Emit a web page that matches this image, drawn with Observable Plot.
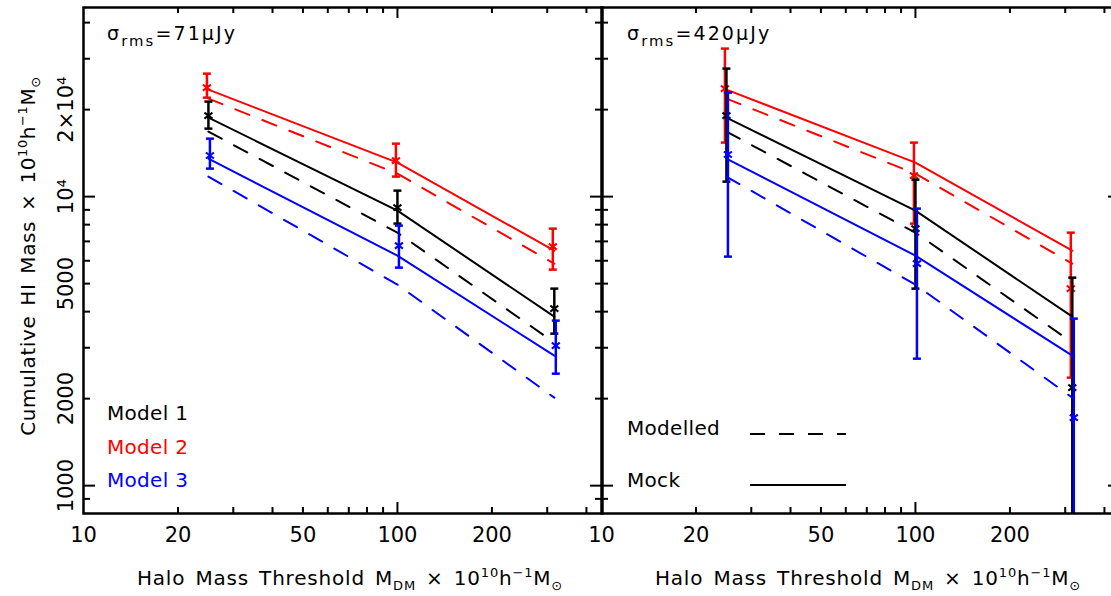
<!DOCTYPE html>
<html>
<head>
<meta charset="utf-8">
<script src="https://cdn.jsdelivr.net/npm/d3@7"></script>
<script src="https://cdn.jsdelivr.net/npm/@observablehq/plot@0.6"></script>
<style>
  html, body { margin:0; padding:0; background:#fff; }
  body { width:1111px; height:596px; overflow:hidden; position:relative; font-family:"DejaVu Sans", sans-serif; color:#000; }
  .panel { position:absolute; top:0; }
  .t { position:absolute; white-space:nowrap; line-height:1; }
  .t sup, .t sub { font-size:65%; line-height:0; position:relative; vertical-align:baseline; }
  .t sup { top:-0.6em; }
  .t sub { top:0.35em; }
</style>
</head>
<body>
<div id="left" class="panel" style="left:0"></div>
<div id="right" class="panel" style="left:599px"></div>
<script>
// ---------------- data ----------------
const haloThreshold = [25, 100, 316];                 // M_DM threshold (10^10 h^-1 Msun)
const modelNames  = ["Model 1", "Model 2", "Model 3"];
const modelColors = ["#000000", "#ff0000", "#0000ff"];
const panelSigma  = ["71", "420"];                    // σ_rms in μJy

// Modelled (dashed) cumulative HI mass
const modelledHI = [
  [16790, 7505, 3125],
  [21830, 12010, 5864],
  [11730, 4960, 2016]
];
// Mock (solid) cumulative HI mass
const mockHI = [
  [18770, 8945, 3843],
  [23460, 13110, 6500],
  [13530, 6250, 2818]
];
// σ_rms = 71 μJy : measured values and error bars
const mean71 = [[19070, 9160, 4097], [23840, 13320, 6714], [13870, 6767, 3050]];
const low71  = [[17190, 8066, 3357], [22000, 11730, 5590], [12500, 5680, 2440]];
const high71 = [[21320, 10490, 4805], [26640, 15250, 7749], [15870, 7937, 3724]];
// σ_rms = 420 μJy
const mean420 = [[19070, 7749, 2183], [23640, 11820, 4805], [13980, 5864, 1719]];
const low420  = [[11270, 4805, 500], [15380, 8066, 2364], [6200, 2750, 500]];
const high420 = [[27730, 11450, 5244], [32520, 15380, 7505], [22900, 9090, 3783]];

// ticks
const xTickLabels = [10, 20, 50, 100, 200];
const xMajorTicks = [100];
const xMinorTicks = [20, 30, 40, 50, 60, 70, 80, 90, 200, 300, 400];
const yMajorTicks = [1000, 10000];
const yMinorTicks = [900, 2000, 3000, 4000, 5000, 6000, 7000, 8000, 9000, 20000, 30000, 40000];
const yTickLabelValues = [1000, 2000, 5000, 10000, 20000];
const yTickLabelText   = ["1000", "2000", "5000", "10⁴", "2×10⁴"];

const legendStyles = ["Modelled", "Mock"];

// ---------------- drawing ----------------
const innerW = 519, innerH = 506, mTop = 7, mBottom = 83;
const drawOrder = [1, 0, 2];
const dxOffset = [0, -1.5, 1.5];

const capSymbol = {draw(ctx, size) { const r = Math.sqrt(size / Math.PI); ctx.moveTo(-r, 0); ctx.lineTo(r, 0); }};
const crossSymbol = {draw(ctx, size) { const r = Math.sqrt(size / Math.PI); const h = r * 0.75;
  ctx.moveTo(-r, -h); ctx.lineTo(r, h); ctx.moveTo(-r, h); ctx.lineTo(r, -h); }};

function panel(mean, lo, hi, withYLabels) {
  const marginLeft = withYLabels ? 83 : 2, marginRight = 2;
  const marks = [];
  for (const m of drawOrder) {
    const rows = haloThreshold.map((x, i) => ({
      x, modelled: modelledHI[m][i], mock: mockHI[m][i],
      mean: mean[m][i], lo: lo[m][i], hi: hi[m][i]
    }));
    const c = modelColors[m], dx = dxOffset[m];
    marks.push(
      Plot.line(rows, {x: "x", y: "modelled", stroke: c, strokeWidth: 2, strokeDasharray: "15,14"}),
      Plot.line(rows, {x: "x", y: "mock", stroke: c, strokeWidth: 2}),
      Plot.ruleX(rows, {x: "x", y1: "lo", y2: "hi", stroke: c, strokeWidth: 2.5, dx, clip: true}),
      Plot.dot(rows, {x: "x", y: "lo", symbol: capSymbol, r: 4, stroke: c, fill: "none", strokeWidth: 2.5, dx, clip: true}),
      Plot.dot(rows, {x: "x", y: "hi", symbol: capSymbol, r: 4, stroke: c, fill: "none", strokeWidth: 2.5, dx, clip: true}),
      Plot.dot(rows, {x: "x", y: "mean", symbol: crossSymbol, r: 4, stroke: c, fill: "none", strokeWidth: 2, dx, clip: true})
    );
  }
  const tickMarks = [
    Plot.tickY(yMajorTicks, {y: d => d, insetRight: innerW - 12, strokeWidth: 2}),
    Plot.tickY(yMajorTicks, {y: d => d, insetLeft: innerW - 12, strokeWidth: 2}),
    Plot.tickY(yMinorTicks, {y: d => d, insetRight: innerW - 7, strokeWidth: 2}),
    Plot.tickY(yMinorTicks, {y: d => d, insetLeft: innerW - 7, strokeWidth: 2}),
    Plot.tickX(xMajorTicks, {x: d => d, insetBottom: innerH - 11, strokeWidth: 2}),
    Plot.tickX(xMajorTicks, {x: d => d, insetTop: innerH - 11, strokeWidth: 2}),
    Plot.tickX(xMinorTicks, {x: d => d, insetBottom: innerH - 6, strokeWidth: 2}),
    Plot.tickX(xMinorTicks, {x: d => d, insetTop: innerH - 6, strokeWidth: 2}),
    Plot.text(xTickLabels, {x: d => d, frameAnchor: "bottom", dy: 14, lineAnchor: "top",
      textAnchor: "middle", text: d => String(d), fontSize: 21})
  ];
  if (withYLabels) {
    tickMarks.push(Plot.text(yTickLabelValues, {
      y: d => d, frameAnchor: "left", dx: -11, rotate: -90,
      textAnchor: "middle", lineAnchor: "bottom", fontSize: 21,
      text: (d, i) => yTickLabelText[i]
    }));
  }
  return Plot.plot({
    width: marginLeft + innerW + marginRight,
    height: mTop + innerH + mBottom,
    marginLeft, marginRight, marginTop: mTop, marginBottom: mBottom,
    x: {type: "log", domain: [10, 450], label: null, axis: null},
    y: {type: "log", domain: [801, 45120], label: null, axis: null},
    style: {fontFamily: "DejaVu Sans", fontSize: "21px", background: "transparent", overflow: "visible", color: "black"},
    marks: [...marks, ...tickMarks, Plot.frame({stroke: "black", strokeWidth: 2.5})]
  });
}

document.getElementById("left").appendChild(panel(mean71, low71, high71, true));
const rp = panel(mean420, low420, high420, false);
rp.style.maxWidth = "none";
document.getElementById("right").appendChild(rp);

// ---------------- text overlays ----------------
function addText(html, style) {
  const d = document.createElement("div");
  d.className = "t";
  d.innerHTML = html;
  Object.assign(d.style, style);
  document.body.appendChild(d);
  return d;
}
// panel titles
[107, 627].forEach((left, k) => {
  addText(`σ<sub style="font-size:78%;top:0.4em">rms</sub>=${panelSigma[k]}μJy`,
    {left: left + "px", top: "24px", fontSize: "19px", letterSpacing: "2.1px"});
});
// model names
modelNames.forEach((name, i) => {
  addText(name, {left: "107px", top: (403 + i * 33.5) + "px", fontSize: "20px", color: modelColors[i], letterSpacing: "0.3px"});
});
// line-style legend
legendStyles.forEach((name, i) => {
  addText(name, {left: "627px", top: (418 + i * 52) + "px", fontSize: "20px", letterSpacing: "0.3px"});
  const y = 434 + i * 51;
  const s = document.createElementNS("http://www.w3.org/2000/svg", "svg");
  s.setAttribute("width", "100"); s.setAttribute("height", "6");
  s.style.position = "absolute"; s.style.left = "750px"; s.style.top = (y - 3) + "px";
  const l = document.createElementNS("http://www.w3.org/2000/svg", "line");
  l.setAttribute("x1", 0); l.setAttribute("x2", 96); l.setAttribute("y1", 3); l.setAttribute("y2", 3);
  l.setAttribute("stroke", "black"); l.setAttribute("stroke-width", 2);
  if (i === 0) l.setAttribute("stroke-dasharray", "15,14");
  s.appendChild(l);
  document.body.appendChild(s);
});
// axis titles
const xTitle = `Halo Mass Threshold M<sub>DM</sub> × 10<sup>10</sup>h<sup>−1</sup>M<sub>⊙</sub>`;
[350, 868].forEach(cx => {
  const d = addText(xTitle, {left: cx + "px", top: "568px", fontSize: "20px", letterSpacing: "0.8px", wordSpacing: "3px"});
  d.style.transform = "translateX(-50%)";
});
const yTitle = `Cumulative HI Mass × 10<sup>10</sup>h<sup>−1</sup>M<sub>⊙</sub>`;
const yt = addText(yTitle, {left: "28px", top: "256px", fontSize: "20px", letterSpacing: "0.6px", wordSpacing: "3px"});
yt.style.transform = "translate(-50%,-50%) rotate(-90deg)";
</script>
</body>
</html>
